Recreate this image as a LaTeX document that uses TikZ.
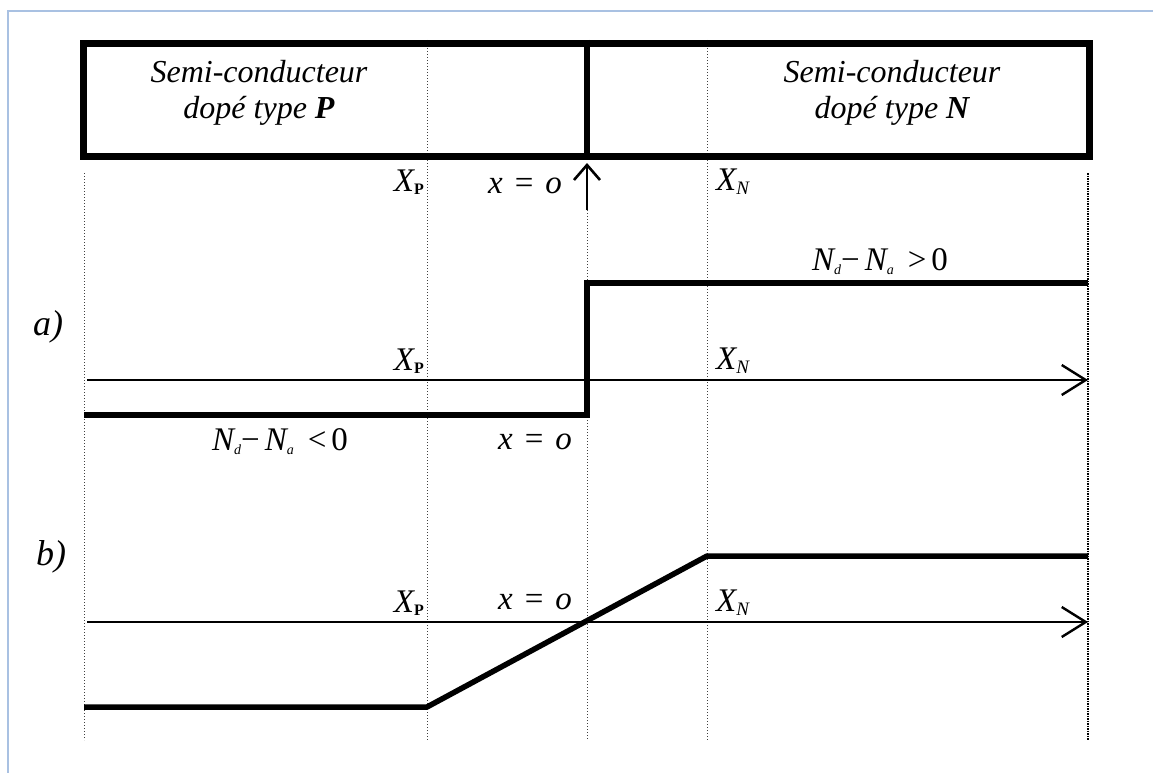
\documentclass[tikz,border=0pt]{standalone}
\usepackage{fontspec}
\setmainfont{Liberation Serif}
\usetikzlibrary{arrows.meta}
\definecolor{framecol}{HTML}{A9C1E2}
\newcommand{\sP}{\raisebox{-3pt}{\fontsize{16}{16}\selectfont\upshape\bfseries P}}
\newcommand{\sN}{\raisebox{-4pt}{\fontsize{19}{19}\selectfont\itshape N}}
\newcommand{\sd}{\raisebox{-4pt}{\fontsize{14}{14}\selectfont\itshape d}}
\newcommand{\sa}{\raisebox{-4pt}{\fontsize{14}{14}\selectfont\itshape a}}
\newcommand{\xeq}{x\hspace{12pt}\upshape=\hspace{12pt}\itshape o}
\begin{document}
\begin{tikzpicture}[x=1pt,y=-1pt,
  boxline/.style={line width=7pt},
  thickline/.style={line width=5.5pt},
  guide/.style={dotted, line width=1pt, black!75},
  guideR/.style={dash pattern=on 1.5pt off 1pt, line width=2.2pt, black},
  axis/.style={line width=2.4pt, -{Straight Barb[length=24pt,width=30pt,line width=2.4pt]}},
  uparrow/.style={line width=2.6pt, -{Straight Barb[length=15pt,width=26pt,line width=2.6pt]}},
  lbl/.style={font=\fontsize{33}{36}\selectfont\itshape, inner sep=0pt},
  big/.style={font=\fontsize{32}{36}\selectfont\itshape, inner sep=0pt, align=center}]
\useasboundingbox (0,0) rectangle (1153,773);
\fill[white] (0,0) rectangle (1153,773);
% screenshot frame
\draw[framecol, line width=1.2pt] (8,773) -- (8,11) -- (1153,11);

% guide lines
\draw[guide] (84,173) -- (84,740);
\draw[guide] (427,40) -- (427,740);
\draw[guide] (587,210) -- (587,740);
\draw[guide] (707,40) -- (707,740);
\draw[guideR] (1088,173) -- (1088,740);

% top box
\draw[boxline, fill=white] (83,44) rectangle (1089,156);
\draw[guide] (427,48) -- (427,152);
\draw[guide] (707,48) -- (707,152);
\draw[line width=5.5pt] (587,40) -- (587,156);
\node[big] (tP) at (259,93) {Semi-conducteur\\dopé type \textbf{P}};
\node[big] (tN) at (892,93) {Semi-conducteur\\dopé type \textbf{N}};

% up arrow
\coordinate (ua) at (587,210);
\coordinate (ub) at (587,163);
\draw[uparrow] (ua) -- (ub);
\node[lbl, anchor=east] (xp0) at (424,182) {X\sP};
\node[lbl] (x00) at (525,186) {\xeq};
\node[lbl, anchor=west] (xn0) at (716,182) {X\sN};

% a)
\node[font=\fontsize{36}{36}\selectfont\itshape, inner sep=0pt] (la) at (48,327) {a)};
\coordinate (a0) at (87,380);
\coordinate (a1) at (1088,380);
\draw[axis] (a0) -- (a1);
\coordinate (s0) at (84,415);
\coordinate (s1) at (587,415);
\coordinate (s2) at (587,283);
\coordinate (s3) at (1088,283);
\draw[thickline] (s0) -- (s1) -- (s2) -- (s3);
\node[lbl] (napos) at (880,262) {N\sd\upshape{}−\hspace{5pt}\itshape N\sa\hspace{14pt}\upshape{}>\hspace{5pt}0};
\node[lbl, anchor=east] (xpa) at (424,361) {X\sP};
\node[lbl, anchor=west] (xna) at (716,361) {X\sN};
\node[lbl] (naneg) at (280,442) {N\sd\upshape{}−\hspace{5pt}\itshape N\sa\hspace{14pt}\upshape{}<\hspace{5pt}0};
\node[lbl] (x0a) at (535,442) {\xeq};

% b)
\node[font=\fontsize{36}{36}\selectfont\itshape, inner sep=0pt] (lb) at (51,557) {b)};
\coordinate (b0) at (87,622);
\coordinate (b1) at (1088,622);
\draw[axis] (b0) -- (b1);
\coordinate (r0) at (84,707);
\coordinate (r1) at (427,707);
\coordinate (r2) at (707,556);
\coordinate (r3) at (1088,556);
\draw[thickline, line join=round] (r0) -- (r1) -- (r2) -- (r3);
\node[lbl, anchor=east] (xpb) at (424,603) {X\sP};
\node[lbl] (x0b) at (535,602) {\xeq};
\node[lbl, anchor=west] (xnb) at (716,603) {X\sN};
\end{tikzpicture}
\end{document}
